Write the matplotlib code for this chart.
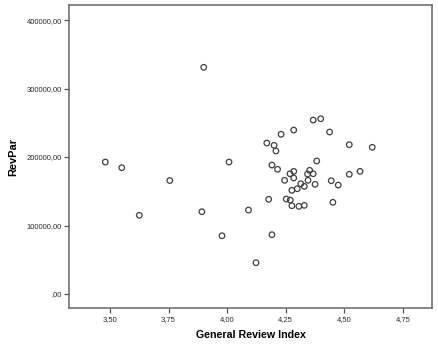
#!/usr/bin/env python3
"""Scatter of RevPar against General Review Index (SPSS style)."""

import matplotlib
matplotlib.use("Agg")
import matplotlib.pyplot as plt
from matplotlib.ticker import FuncFormatter

# values
review_index = [
    3.480, 3.550, 3.755, 3.625, 3.892, 3.900, 4.008, 4.091, 3.978, 4.191,
    4.123, 4.367, 4.399, 4.284, 4.230, 4.437, 4.169, 4.200, 4.208, 4.521,
    4.619, 4.382, 4.191, 4.215, 4.268, 4.284, 4.284, 4.245, 4.352, 4.343,
    4.367, 4.345, 4.314, 4.329, 4.299, 4.276, 4.375, 4.444, 4.474, 4.521,
    4.567, 4.177, 4.252, 4.269, 4.276, 4.306, 4.329, 4.451,
]
revpar = [
    192700, 184400, 165700, 114900, 120200, 331000, 192700, 122600, 85100, 86600,
    45700, 254000, 255900, 239400, 233200, 236500, 220500, 217100, 208800, 218000,
    214200, 194200, 188300, 182100, 175600, 179100, 169400, 166000, 180600, 175200,
    175600, 166000, 161000, 157200, 153700, 151400, 160200, 165400, 159100, 174800,
    179100, 138300, 138700, 137200, 128900, 128000, 129500, 133900,
]
x_ticks = [3.50, 3.75, 4.00, 4.25, 4.50, 4.75]
y_ticks = [0, 100000, 200000, 300000, 400000]


def comma_fmt(v, _pos=None):
    s = f"{v:.2f}".replace(".", ",")
    if s.startswith("0,"):
        s = s[1:]
    return s


def main():
    plt.rcParams["font.family"] = ["Liberation Sans", "DejaVu Sans"]

    fig = plt.figure(figsize=(4.38, 3.51), dpi=100)
    ax = fig.add_axes([0.1575, 0.1225, 0.8288, 0.8633])

    ax.scatter(review_index, revpar, s=16, facecolors="none",
               edgecolors="#404040", linewidths=0.9)

    ax.set_xlim(3.325, 4.874)
    ax.set_ylim(-20400, 422000)
    ax.set_xticks(x_ticks)
    ax.set_yticks(y_ticks)
    ax.xaxis.set_major_formatter(FuncFormatter(comma_fmt))
    ax.yaxis.set_major_formatter(FuncFormatter(comma_fmt))

    for side in ["left", "bottom", "top", "right"]:
        ax.spines[side].set_color("#666666")
        ax.spines[side].set_linewidth(1.1)

    ax.tick_params(axis="both", direction="out", length=3.5, width=0.9,
                   color="#555555", labelsize=5.5, labelcolor="#2a2a2a", pad=1.5)
    ax.tick_params(axis="x", pad=2.5)

    ax.set_xlabel("General Review Index", fontsize=7.7, fontweight="bold",
                  labelpad=4.5)
    ax.set_ylabel("RevPar", fontsize=7.9, fontweight="bold", labelpad=6)

    fig.savefig("out.png", dpi=100)


if __name__ == "__main__":
    main()
